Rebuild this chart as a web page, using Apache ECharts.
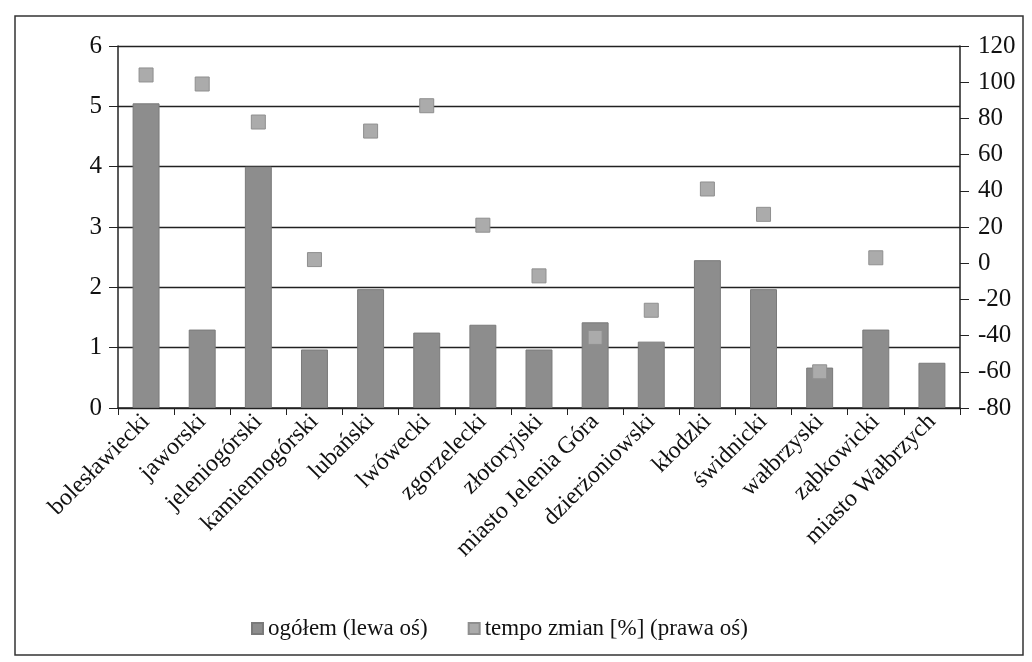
<!DOCTYPE html>
<html>
<head>
<meta charset="utf-8">
<script src="https://cdn.jsdelivr.net/npm/echarts@6/dist/echarts.min.js"></script>
<style>
html,body{margin:0;padding:0;background:#fff;}
#chart{width:1032px;height:662px;}
</style>
</head>
<body>
<div id="chart"></div>
<script>
const categories = ['bolesławiecki','jaworski','jeleniogórski','kamiennogórski','lubański','lwówecki','zgorzelecki','złotoryjski','miasto Jelenia Góra','dzierżoniowski','kłodzki','świdnicki','wałbrzyski','ząbkowicki','miasto Wałbrzych'];
const ogolem = [5.05, 1.3, 4.0, 0.97, 1.97, 1.25, 1.38, 0.97, 1.42, 1.1, 2.45, 1.97, 0.67, 1.3, 0.75];
const tempo = [104, 99, 78, 2, 73, 87, 21, -7, -41, -26, 41, 27, -60, 3, null];
const leftTicks = [0, 6, 1];
const rightTicks = [-80, 120, 20];

const font = '"Liberation Serif", "DejaVu Serif", serif';
const chart = echarts.init(document.getElementById('chart'));
chart.setOption({
  backgroundColor: '#fff',
  animation: false,
  textStyle: { fontFamily: font, color: '#111' },
  graphic: [{
    type: 'rect',
    shape: { x: 15, y: 16, width: 1008, height: 639 },
    style: { fill: 'none', stroke: '#333', lineWidth: 1.5 }
  }],
  grid: { left: 118, right: 72, top: 46, bottom: 254, containLabel: false },
  legend: {
    top: 612,
    left: 246,
    itemWidth: 11,
    itemHeight: 11,
    itemGap: 40,
    icon: 'rect',
    textStyle: { fontFamily: font, fontSize: 23, color: '#111' },
    data: ['ogółem (lewa oś)', 'tempo zmian [%] (prawa oś)']
  },
  xAxis: {
    type: 'category',
    data: categories,
    boundaryGap: true,
    axisLine: { lineStyle: { color: '#222', width: 1.5 } },
    axisTick: { show: true, alignWithLabel: false, length: 7, lineStyle: { color: '#222' } },
    axisLabel: { rotate: 45, interval: 0, fontSize: 24, fontFamily: font, color: '#111', margin: 10 }
  },
  yAxis: [{
    type: 'value',
    min: leftTicks[0], max: leftTicks[1], interval: leftTicks[2],
    axisLine: { show: true, lineStyle: { color: '#222', width: 1.5 } },
    axisTick: { show: true, length: 9, lineStyle: { color: '#222' } },
    axisLabel: { fontSize: 25, fontFamily: font, color: '#111', margin: 16 },
    splitLine: { show: true, lineStyle: { color: '#222', width: 1.3 } }
  }, {
    type: 'value',
    min: rightTicks[0], max: rightTicks[1], interval: rightTicks[2],
    position: 'right',
    axisLine: { show: true, lineStyle: { color: '#222', width: 1.5 } },
    axisTick: { show: true, length: 9, lineStyle: { color: '#222' } },
    axisLabel: { fontSize: 25, fontFamily: font, color: '#111', margin: 18 },
    splitLine: { show: false }
  }],
  series: [{
    name: 'ogółem (lewa oś)',
    type: 'bar',
    yAxisIndex: 0,
    data: ogolem,
    barWidth: '48%',
    itemStyle: { color: '#8d8d8d', borderColor: '#7a7a7a', borderWidth: 1 }
  }, {
    name: 'tempo zmian [%] (prawa oś)',
    type: 'scatter',
    yAxisIndex: 1,
    data: tempo,
    symbol: 'rect',
    symbolSize: 14,
    itemStyle: { color: '#ababab', borderColor: '#8f8f8f', borderWidth: 1, opacity: 1 },
    z: 5
  }]
});
</script>
</body>
</html>
